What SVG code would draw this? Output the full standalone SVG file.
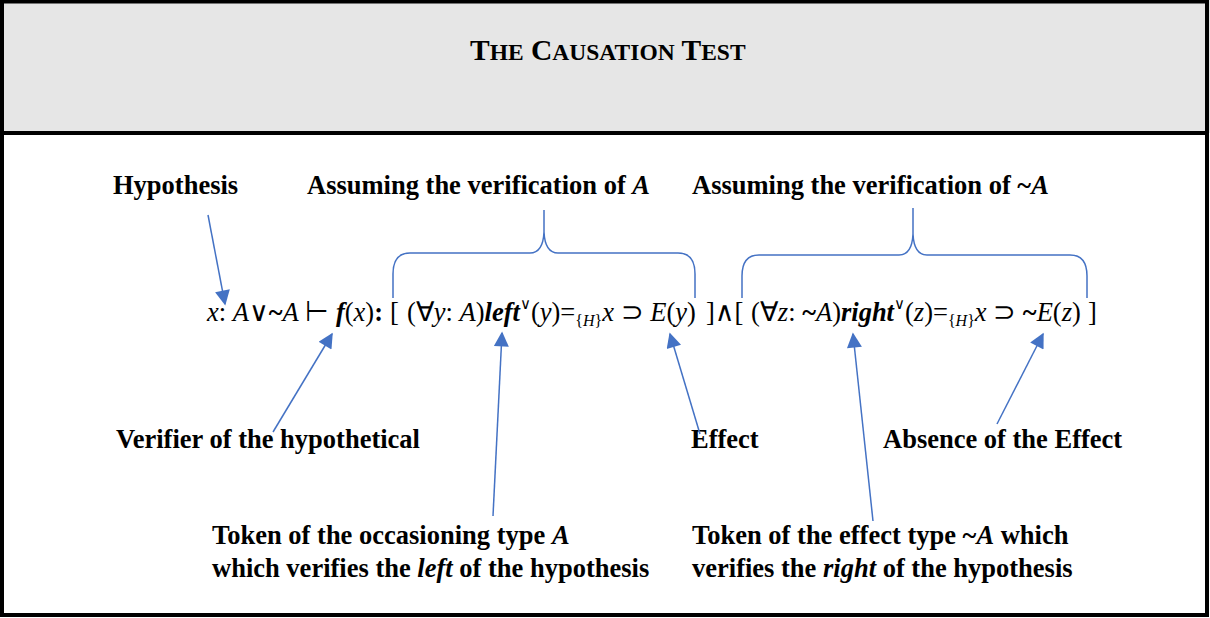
<svg xmlns="http://www.w3.org/2000/svg" width="1210" height="618" viewBox="0 0 1210 618">
<style>
.lbl{font-family:"Liberation Serif","Times New Roman",serif;font-weight:bold;font-size:26.5px;fill:#000}
.ttl{font-family:"Liberation Serif","Times New Roman",serif;font-weight:bold;fill:#000}
.fm{font-family:"Liberation Serif","Times New Roman",serif;font-size:26.5px;fill:#000}
.it{font-style:italic}
.bi{font-style:italic;font-weight:bold}
.b{font-weight:bold}
.sm{font-size:16px}
.op{font-family:"DejaVu Serif",serif;font-size:27px;font-weight:normal}
.ops{font-family:"DejaVu Serif",serif;font-size:15px;font-weight:normal}
.brace{fill:none;stroke:#4472C4;stroke-width:1.5}
.arr{fill:none;stroke:#4472C4;stroke-width:1.5}
</style>
<defs>
<marker id="ah" viewBox="0 0 10 10" refX="9" refY="5" markerWidth="17" markerHeight="15" markerUnits="userSpaceOnUse" orient="auto">
<path d="M0,0 L10,5 L0,10 z" fill="#4472C4"/>
</marker>
</defs>
<rect x="0" y="0" width="1210" height="133" fill="#e6e6e6"/>
<rect x="2" y="1.5" width="1205" height="613.5" fill="none" stroke="#000" stroke-width="4"/>
<line x1="2" y1="133" x2="1207" y2="133" stroke="#000" stroke-width="4"/>
<g id="title">
<text class="ttl" x="470" y="60" font-size="29.5">T<tspan font-size="23.5">HE</tspan> C<tspan font-size="23.5">AUSATION</tspan> T<tspan font-size="23.5">EST</tspan></text>
</g>
<g id="formula">
<text class="fm" x="207" y="321"><tspan class="it">x</tspan>: <tspan class="it">A</tspan><tspan class="op">∨</tspan><tspan class="b">~</tspan><tspan class="it">A</tspan> ⊢ <tspan class="bi">f</tspan>(<tspan class="it">x</tspan>)<tspan class="b">:</tspan><tspan x="390">[ </tspan><tspan x="407">(∀<tspan class="it">y</tspan>: <tspan class="it">A</tspan>)<tspan class="bi">left</tspan><tspan class="ops" dy="-12">∨</tspan><tspan dy="12">(</tspan><tspan class="it">y</tspan>)=<tspan class="sm" dy="5">{<tspan class="it">H</tspan>}</tspan><tspan class="it" dy="-5">x</tspan> ⊃ <tspan class="it">E</tspan>(<tspan class="it">y</tspan>)</tspan><tspan x="706">]</tspan><tspan class="op">∧</tspan><tspan>[ </tspan><tspan x="751">(∀<tspan class="it">z</tspan>: <tspan class="b">~</tspan><tspan class="it">A</tspan>)<tspan class="bi">right</tspan><tspan class="ops" dy="-12">∨</tspan><tspan dy="12">(</tspan><tspan class="it">z</tspan>)=<tspan class="sm" dy="5">{<tspan class="it">H</tspan>}</tspan><tspan class="it" dy="-5">x</tspan> ⊃ <tspan class="b">~</tspan><tspan class="it">E</tspan>(<tspan class="it">z</tspan>)</tspan><tspan x="1088">]</tspan></text>
</g>
<g id="label-hypothesis"><text class="lbl" x="113" y="194">Hypothesis</text></g>
<g id="label-assume-a"><text class="lbl" x="307" y="194">Assuming the verification of <tspan font-style="italic">A</tspan></text></g>
<g id="label-assume-nota"><text class="lbl" x="692" y="194">Assuming the verification of ~<tspan font-style="italic">A</tspan></text></g>
<g id="label-verifier"><text class="lbl" x="116" y="448">Verifier of the hypothetical</text></g>
<g id="label-effect"><text class="lbl" x="691" y="448">Effect</text></g>
<g id="label-absence"><text class="lbl" x="883" y="448">Absence of the Effect</text></g>
<g id="label-token-left"><text class="lbl" x="212" y="544">Token of the occasioning type <tspan font-style="italic">A</tspan></text><text class="lbl" x="212" y="577">which verifies the <tspan font-style="italic">left</tspan> of the hypothesis</text></g>
<g id="label-token-right"><text class="lbl" x="692" y="544">Token of the effect type ~<tspan font-style="italic">A</tspan> which</text><text class="lbl" x="692" y="577">verifies the <tspan font-style="italic">right</tspan> of the hypothesis</text></g>
<g id="connectors">
<path class="brace" d="M393,298 V274 Q393,253 410,253 H530 Q543,253 544,232 V210 M544,232 Q545,253 558,253 H678 Q695,253 695,274 V298"/>
<path class="brace" d="M742,298 V276 Q742,255 759,255 H899 Q912,255 913,234 V208 M913,234 Q914,255 927,255 H1070 Q1087,255 1087,276 V298"/>
<line class="arr" x1="208" y1="215" x2="225" y2="304" marker-end="url(#ah)"/>
<line class="arr" x1="273" y1="432" x2="332" y2="334" marker-end="url(#ah)"/>
<line class="arr" x1="493" y1="516" x2="502" y2="333" marker-end="url(#ah)"/>
<line class="arr" x1="700" y1="434" x2="670" y2="334" marker-end="url(#ah)"/>
<line class="arr" x1="873" y1="521" x2="853" y2="334" marker-end="url(#ah)"/>
<line class="arr" x1="997" y1="424" x2="1043" y2="334" marker-end="url(#ah)"/>
</g>
</svg>
